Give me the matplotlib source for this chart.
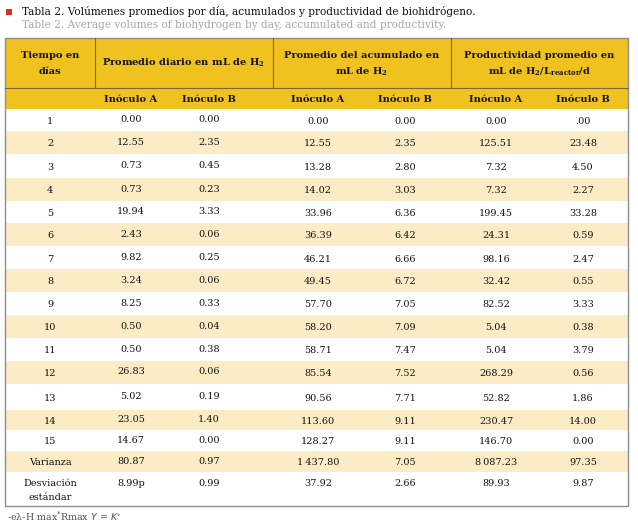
import matplotlib

matplotlib.use("Agg")
import matplotlib.pyplot as plt
from matplotlib.patches import Rectangle

plt.rcParams["font.family"] = ["DejaVu Serif"]
plt.rcParams["mathtext.default"] = "regular"

TITLE_ES = "Tabla 2. Volúmenes promedios por día, acumulados y productividad de biohidrógeno."
TITLE_EN = "Table 2. Average volumes of biohydrogen by day, accumulated and productivity."
FOOTNOTE = r"-eλ-H max$^{*}$Rmax $\mathit{Y}$ = $\mathit{K}^{\circ}$"

GROUP_HEADERS = [
    ["Tiempo en", "días"],
    ["Promedio diario en mL de H$_{2}$"],
    ["Promedio del acumulado en", "mL de H$_{2}$"],
    ["Productividad promedio en", r"mL de H$_{2}$/L$_{\mathregular{reactor}}$/d"],
]
SUB_HEADERS = ["", "Inóculo A", "Inóculo B", "Inóculo A", "Inóculo B", "Inóculo A", "Inóculo B"]

days = [str(d) for d in range(1, 16)] + ["Varianza", "Desviación\nestándar"]
diario_a = ["0.00", "12.55", "0.73", "0.73", "19.94", "2.43", "9.82", "3.24", "8.25",
            "0.50", "0.50", "26.83", "5.02", "23.05", "14.67", "80.87", "8.99p"]
diario_b = ["0.00", "2.35", "0.45", "0.23", "3.33", "0.06", "0.25", "0.06", "0.33",
            "0.04", "0.38", "0.06", "0.19", "1.40", "0.00", "0.97", "0.99"]
acum_a = ["0.00", "12.55", "13.28", "14.02", "33.96", "36.39", "46.21", "49.45", "57.70",
          "58.20", "58.71", "85.54", "90.56", "113.60", "128.27", "1\u2009437.80", "37.92"]
acum_b = ["0.00", "2.35", "2.80", "3.03", "6.36", "6.42", "6.66", "6.72", "7.05",
          "7.09", "7.47", "7.52", "7.71", "9.11", "9.11", "7.05", "2.66"]
prod_a = ["0.00", "125.51", "7.32", "7.32", "199.45", "24.31", "98.16", "32.42", "82.52",
          "5.04", "5.04", "268.29", "52.82", "230.47", "146.70", "8\u2009087.23", "89.93"]
prod_b = [".00", "23.48", "4.50", "2.27", "33.28", "0.59", "2.47", "0.55", "3.33",
          "0.38", "3.79", "0.56", "1.86", "14.00", "0.00", "97.35", "9.87"]

# layout in pixel coordinates (y grows downward)
W, H = 638, 530
LEFT, RIGHT = 5, 628
TOP, HEAD1, HEAD2 = 37.5, 87.5, 108.5
ROW_EDGES = [108.5, 131, 154, 177.5, 200.5, 223, 246, 269, 291.5, 315, 338, 360.5,
             383.5, 410, 429.5, 451, 471.5, 506]
GROUP_EDGES = [LEFT, 94.5, 272.5, 451, RIGHT]
COL_X = [50, 131, 209, 318, 405, 496, 583]

YELLOW = "#f0c21f"
CREAM = "#fcecc6"
BORDER = "#8e8e8e"
DIVIDER = "#7d6a30"
TEXT = "#141414"
FS = 7.0
FS_HEAD = 7.1

fig = plt.figure(figsize=(W / 100, H / 100), dpi=100)
ax = fig.add_axes([0, 0, 1, 1])
ax.set_xlim(0, W)
ax.set_ylim(H, 0)
ax.axis("off")

# title block
ax.add_patch(Rectangle((5.7, 8.8), 6.6, 6.4, color="#e02b26", lw=0))
ax.text(21.5, 11.5, TITLE_ES, fontsize=7.6, color="#111111", va="center", ha="left")
ax.text(21.5, 25.5, TITLE_EN, fontsize=7.6, color="#a8a8a8", va="center", ha="left")

# header background
ax.add_patch(Rectangle((LEFT, TOP), RIGHT - LEFT, HEAD2 - TOP, color=YELLOW, lw=0))

# zebra bands
columns = [days, diario_a, diario_b, acum_a, acum_b, prod_a, prod_b]
for i in range(len(days)):
    y0, y1 = ROW_EDGES[i], ROW_EDGES[i + 1]
    if i % 2 == 1:
        ax.add_patch(Rectangle((LEFT, y0), RIGHT - LEFT, y1 - y0, color=CREAM, lw=0))

# header lines
for x in GROUP_EDGES[1:-1]:
    ax.plot([x, x], [TOP, HEAD1], color=DIVIDER, lw=0.8)
ax.plot([LEFT, RIGHT], [HEAD1, HEAD1], color=DIVIDER, lw=0.8)

# group headers
for g, lines in enumerate(GROUP_HEADERS):
    cx = (GROUP_EDGES[g] + GROUP_EDGES[g + 1]) / 2
    ys = [63] if len(lines) == 1 else [56, 72]
    for line, y in zip(lines, ys):
        ax.text(cx, y, line, fontsize=FS_HEAD, fontweight="bold", color=TEXT,
                ha="center", va="center")

for x, label in zip(COL_X, SUB_HEADERS):
    if label:
        ax.text(x, 99, label, fontsize=FS_HEAD, fontweight="bold", color=TEXT,
                ha="center", va="center")

# body
for i in range(len(days)):
    y0, y1 = ROW_EDGES[i], ROW_EDGES[i + 1]
    yc = (y0 + y1) / 2 + 1.5
    last = i == len(days) - 1
    for c, col in enumerate(columns):
        val = col[i]
        y = yc - 1.5 if c in (1, 2) else yc
        if last:
            y = 483
        if c == 0 and "\n" in val:
            top, bot = val.split("\n")
            ax.text(COL_X[0], 483, top, fontsize=FS, color=TEXT, ha="center", va="center")
            ax.text(COL_X[0], 497, bot, fontsize=FS, color=TEXT, ha="center", va="center")
            continue
        ax.text(COL_X[c], y, val, fontsize=FS, color=TEXT, ha="center", va="center")

# outer border
ax.add_patch(Rectangle((LEFT, TOP), RIGHT - LEFT, ROW_EDGES[-1] - TOP, fill=False,
                       edgecolor=BORDER, lw=1.0))

ax.text(7, 517, FOOTNOTE, fontsize=6.8, color="#555555", va="center", ha="left")

fig.savefig("out.png", dpi=100, facecolor="white")
